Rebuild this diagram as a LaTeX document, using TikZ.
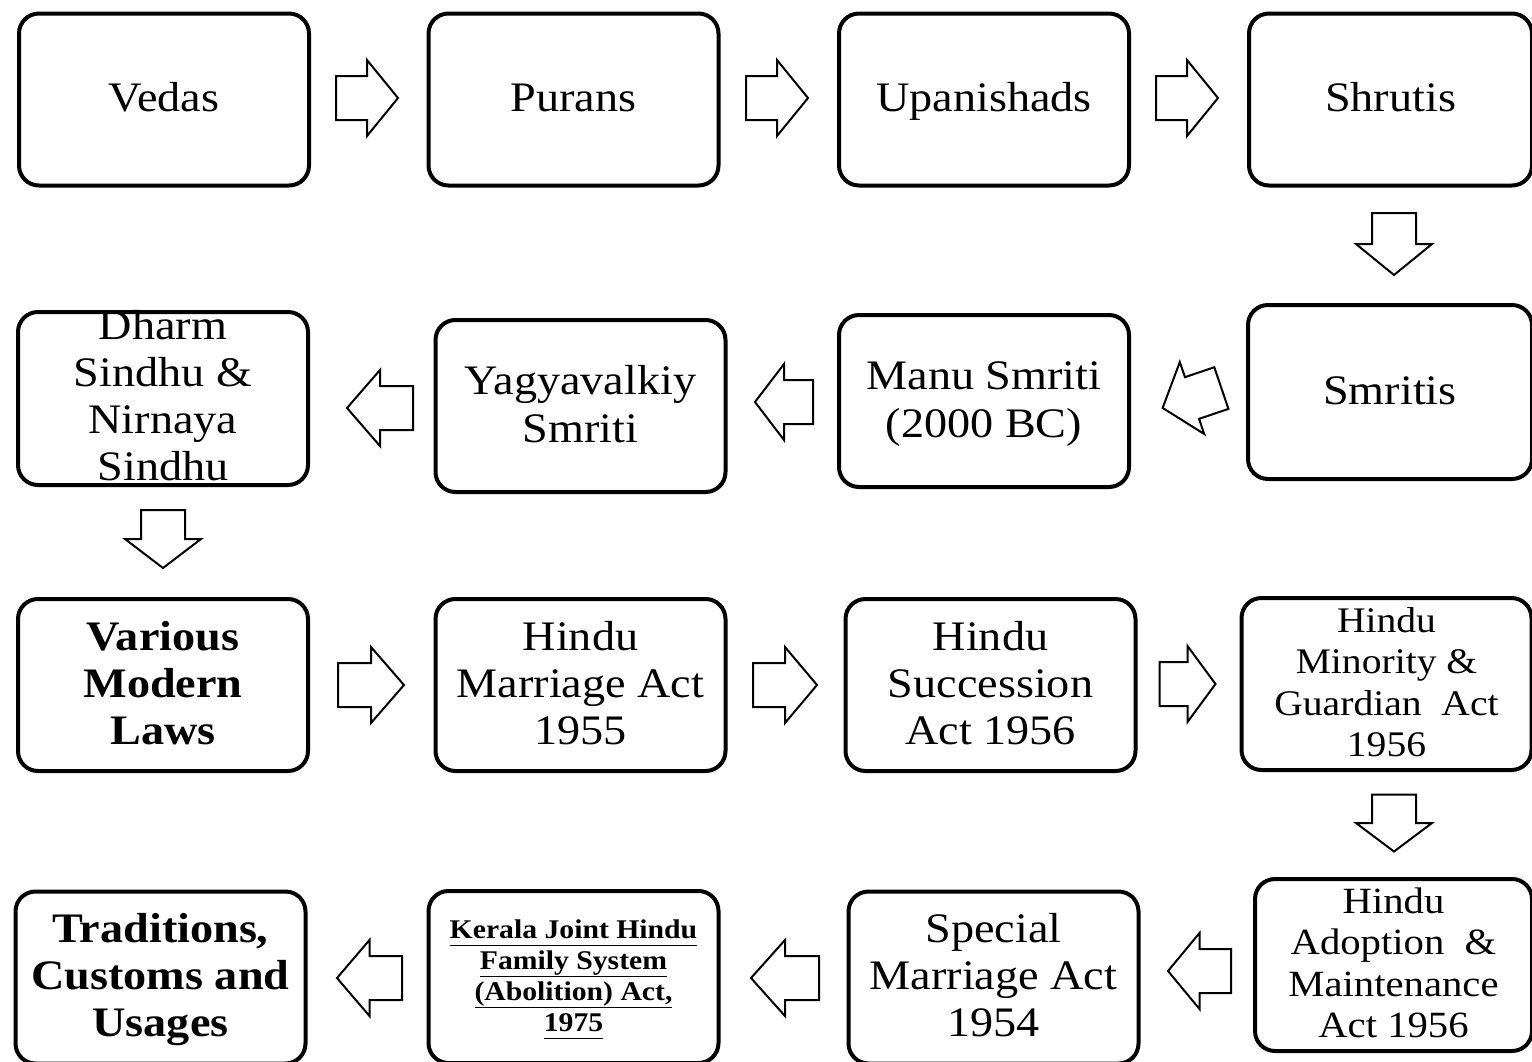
\documentclass[tikz,border=0pt]{standalone}
\usepackage{fontspec}
\setmainfont[FakeStretch=1.1]{Liberation Serif}
\usetikzlibrary{calc}
\newcommand\mystrut{\rule[-0.27em]{0pt}{1.12em}}
\newcommand\ul[1]{\underline{\vphantom{Jy}#1}}
\tikzset{
  box/.style={draw=black, line width=4pt, rounded corners=20pt, minimum width=#1, minimum height=172pt, inner sep=0pt, align=center, font=\fontsize{42}{47}\selectfont},
  box/.default=290pt,
  txt/.style={inner sep=0pt, align=center, font=\fontsize{42}{47}\selectfont},
  arrowline/.style={draw=black, line width=2pt, fill=white, line join=miter},
  pics/barrow/.style={code={
    \draw[arrowline] (-#1/2,-22) -- (0,-22) -- (0,-38) -- (#1/2,0) -- (0,38) -- (0,22) -- (-#1/2,22) -- cycle;
  }}
}
\begin{document}
\begin{tikzpicture}[x=1pt,y=-1pt]
\useasboundingbox (0,0) rectangle (1532,1061);
% row 1
\node[box] (vedas) at (164,99.5) {\mystrut Vedas};
\node[box] (purans) at (573.5,99.5) {\mystrut Purans};
\node[box] (upan) at (984,99.5) {\mystrut Upanishads};
\node[box=283pt] (shrutis) at (1390.5,99.5) {\mystrut Shrutis};
% row 2
\node[box=284pt, minimum height=174pt] (smritis) at (1390,392) {\mystrut Smritis};
\node[box] (manu) at (984,401) {\mystrut Manu Smriti\\(2000 BC)\mystrut};
\node[box] (yagya) at (580.5,406) {\mystrut Yagyavalkiy\\Smriti\mystrut};
\node[box, minimum height=173pt] (dharm) at (163,398.5) {};
\node[txt] (dharmtext) at (163,398) {\mystrut Dharm\\Sindhu \&\\Nirnaya\\Sindhu\mystrut};
% row 3
\node[box, font=\bfseries\fontsize{42}{47}\selectfont] (various) at (163,685) {\mystrut Various\\Modern\\Laws\mystrut};
\node[box] (hma) at (580.5,685) {\mystrut Hindu\\Marriage Act\\1955\mystrut};
\node[box] (hsa) at (990.5,685) {\mystrut Hindu\\Succession\\Act 1956\mystrut};
\node[box, font=\fontsize{36}{41.5}\selectfont] (hmg) at (1386.5,684) {\mystrut Hindu\\Minority \&\\Guardian\ \ Act\\1956\mystrut};
% row 4
\node[box=277pt, font=\fontsize{37}{41.5}\selectfont] (hama) at (1393.5,965) {\mystrut Hindu\\Adoption\ \ \&\\Maintenance\\Act 1956\mystrut};
\node[box] (sma) at (993.5,977.5) {\mystrut Special\\Marriage Act\\1954\mystrut};
\node[box, font=\bfseries\fontsize{27}{31}\selectfont] (kerala) at (573.5,977) {\mystrut\ul{Kerala Joint Hindu}\\\ul{Family System}\\\ul{(Abolition) Act,}\\\ul{1975}\mystrut};
\node[box, font=\bfseries\fontsize{42}{47}\selectfont] (trad) at (160.5,977.5) {\mystrut Traditions,\\Customs and\\Usages\mystrut};
% arrows
\pic at (367,98) {barrow=62};
\pic at (777,98) {barrow=62};
\pic at (1187,98) {barrow=62};
\pic[rotate=-90] at (1394,244) {barrow=62};
\pic[rotate=198.7] at (1192,398) {barrow=62};
\pic[rotate=180] at (784,402) {barrow=58};
\pic[rotate=180] at (380,408) {barrow=66};
\pic[rotate=-90] at (163,539) {barrow=58};
\pic at (371,685) {barrow=66};
\pic at (785,685) {barrow=64};
\pic at (1187.5,684) {barrow=56};
\pic[rotate=-90] at (1394,823) {barrow=57};
\pic[rotate=180] at (369.5,978) {barrow=65};
\pic[rotate=180] at (785,978) {barrow=68};
\pic[rotate=180] at (1199.5,971) {barrow=63};
\end{tikzpicture}
\end{document}
